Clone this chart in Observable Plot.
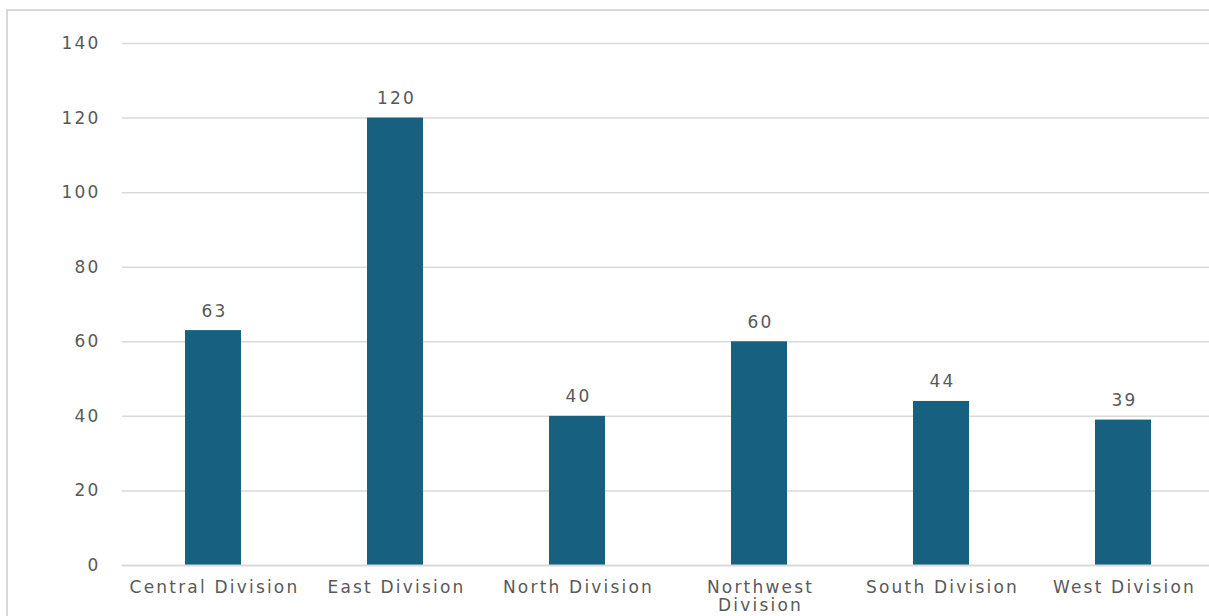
<!DOCTYPE html>
<html>
<head>
<meta charset="utf-8">
<script src="https://cdn.jsdelivr.net/npm/d3@7"></script>
<script src="https://cdn.jsdelivr.net/npm/@observablehq/plot@0.6"></script>
<style>
  html, body { margin: 0; padding: 0; background: #fff; overflow: hidden; }
  #frame { position: absolute; left: 6px; top: 9px; width: 1300px; height: 700px; border: 2px solid #d9d9d9; box-sizing: border-box; }
  #chart { position: absolute; left: 0; top: 0; width: 1214px; }
  #chart svg { max-width: none !important; }
  #chart svg text { letter-spacing: 2.2px; }
</style>
</head>
<body>
<div id="frame"></div>
<div id="chart"></div>
<script>
const categories = ["Central Division", "East Division", "North Division", "Northwest Division", "South Division", "West Division"];
const values = [63, 120, 40, 60, 44, 39];
const yTicks = [0, 20, 40, 60, 80, 100, 120, 140];

const data = categories.map((c, i) => ({category: c, value: values[i]}));
const wrap = d => d === "Northwest Division" ? "Northwest\nDivision" : d;

const chart = Plot.plot({
  width: 1214,
  height: 616,
  marginLeft: 122,
  marginRight: 0,
  marginTop: 43,
  marginBottom: 51,
  style: {fontFamily: "'DejaVu Sans', sans-serif", fontSize: "17px", color: "#595959", background: "transparent", maxWidth: "none"},
  x: {domain: categories, paddingInner: 0.69, paddingOuter: 0.345, align: 0.5, label: null},
  y: {domain: [0, 140], label: null},
  marks: [
    Plot.gridY(yTicks.filter(t => t > 0), {stroke: "#d9d9d9", strokeOpacity: 1, strokeWidth: 1.5}),
    Plot.barY(data, {x: "category", y: "value", fill: "#17607F"}),
    Plot.ruleY([0], {stroke: "#d9d9d9", strokeWidth: 2}),
    Plot.text(data, {x: "category", y: "value", text: d => String(d.value), lineAnchor: "bottom", dy: -14, dx: 1, fill: "#595959", fontSize: 17}),
    Plot.axisX({tickSize: 0, tickPadding: 14, fontSize: 17, lineHeight: 1.08, dx: 1, fill: "#595959", tickFormat: wrap}),
    Plot.axisY({ticks: yTicks, tickSize: 0, tickPadding: 22, fontSize: 17, fill: "#595959"})
  ]
});
document.getElementById("chart").appendChild(chart);
</script>
</body>
</html>
